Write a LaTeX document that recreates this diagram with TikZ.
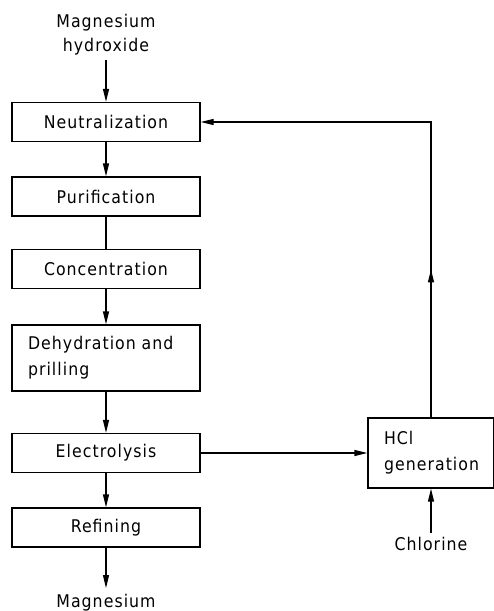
\documentclass[tikz,border=0pt]{standalone}
\usepackage{fontspec}
\setmainfont{DejaVu Sans Condensed}[LetterSpace=6]
\usetikzlibrary{arrows.meta,decorations.markings}

\tikzset{
  stage/.style={draw, line width=1.2pt, minimum width=188pt, minimum height=39pt,
    inner sep=0pt, font=\fontsize{17.5}{26}\selectfont},
  stream/.style={inner sep=4pt, align=center, font=\fontsize{17.5}{24}\selectfont},
  flow/.style={line width=1.2pt, -{Triangle[length=13pt,width=6pt]}},
  upmark/.style={postaction={decorate}, decoration={markings,
    mark=at position 148pt with {\arrow{Triangle[length=13pt,width=6pt]}}}}
}

\begin{document}
\begin{tikzpicture}[x=1pt,y=-1pt]
\useasboundingbox (0,0) rectangle (494,611);

% feed and product
\node (feed) at (106,35) [stream] {Magnesium\\hydroxide};
\node (mg) at (106,588) [stream,anchor=north,inner ysep=6pt] {Magnesium};
\node (chlor) at (431,544) [stream] {Chlorine};

% process line
\node (neut) at (106,122) [stage] {Neutralization};
\node (puri) at (106,196.5) [stage] {Purification};
\node (conc) at (106,269) [stage] {Concentration};
\node (dehy) at (106,358) [stage,minimum height=66pt,inner xsep=16pt,text width=156pt,align=left] {Dehydration and\\prilling};
\node (elec) at (106,453) [stage] {Electrolysis};
\node (refi) at (106,527.5) [stage] {Refining};
\node (hcl) at (431,453) [stage,minimum width=126pt,minimum height=70pt,inner xsep=16pt,text width=94pt,align=left] {HCl\\generation};

\draw[flow] (feed) -- (neut);
\draw[flow] (neut) -- (puri);
\draw[line width=1.2pt] (puri) -- (conc);
\draw[flow] (conc) -- (dehy);
\draw[flow] (dehy) -- (elec);
\draw[flow] (elec) -- (refi);
\draw[flow] (refi) -- (mg);
\draw[flow] (elec.east) -- (hcl.west);
\draw[flow] (chlor) -- (hcl);

% recycle of HCl
\draw[flow,upmark] (hcl.north) -- (hcl.north |- neut.east) -- (neut.east);
\end{tikzpicture}
\end{document}
